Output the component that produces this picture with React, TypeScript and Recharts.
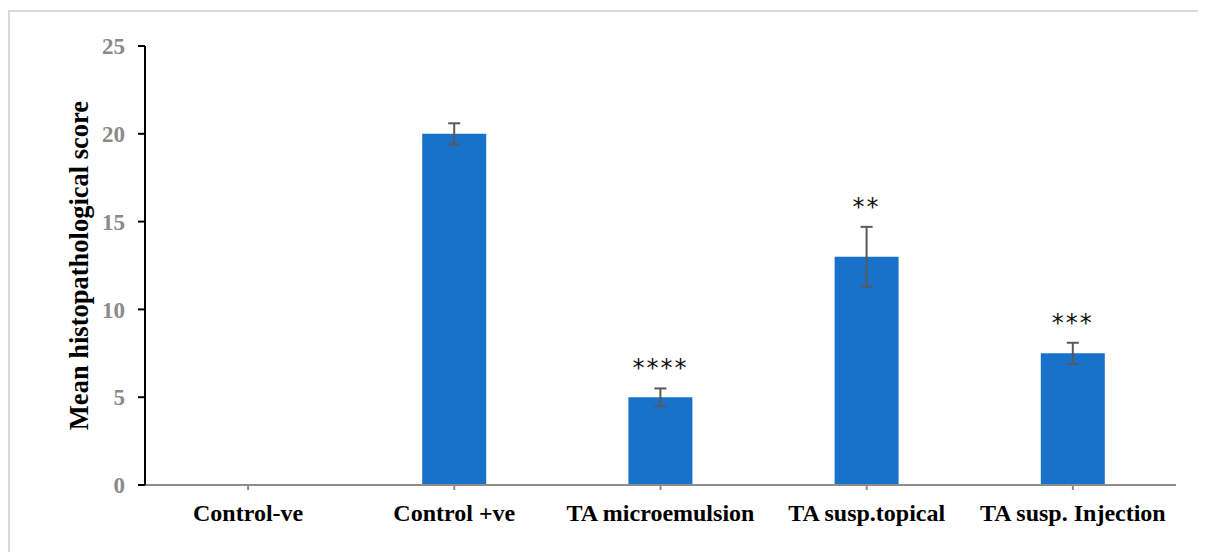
import React from 'react';
import { BarChart, Bar, XAxis, YAxis, ErrorBar, LabelList, Label } from 'recharts';

const categories = ['Control-ve', 'Control +ve', 'TA microemulsion', 'TA susp.topical', 'TA susp. Injection'];
const means = [0, 20, 5, 13, 7.5];
const errors = [0, 0.6, 0.5, 1.7, 0.6];
const significance = ['', '', '****', '**', '***'];
const yTicks = [0, 5, 10, 15, 20, 25];

const data = categories.map((name, i) => ({ name, mean: means[i], err: errors[i] }));

const serif = '"Liberation Serif", "Times New Roman", serif';

const StarLabel = (props: any) => {
  const { x, y, width, height, value } = props;
  const i = categories.indexOf(value);
  if (i < 0) return null;
  const v = means[i];
  const s = significance[i];
  if (!s || !v) return null;
  const ppu = height / v;
  const errTop = y - errors[i] * ppu;
  return (
    <text
      x={x + width / 2}
      y={errTop - 12}
      textAnchor="middle"
      fontFamily='"DejaVu Sans", sans-serif'
      fontSize={24}
      letterSpacing={2}
      fill="#111"
    >
      {s}
    </text>
  );
};

export default function App() {
  return (
    <div style={{ position: 'relative', width: 1198, height: 544 }}>
      <div
        style={{
          position: 'absolute',
          left: 0,
          top: 2,
          width: 1210,
          height: 560,
          border: '2px solid #d9d9d9',
          boxSizing: 'border-box',
        }}
      />
      <div style={{ position: 'absolute', left: 0, top: 0 }}>
        <BarChart
          width={1190}
          height={540}
          data={data}
          margin={{ top: 38, right: 22, bottom: 13, left: 0 }}
          barSize={64}
        >
          <XAxis
            dataKey="name"
            height={50}
            axisLine={{ stroke: '#8c8c8c', strokeWidth: 2 }}
            tickLine={{ stroke: '#8c8c8c', strokeWidth: 2 }}
            tickSize={5}
            tickMargin={14}
            interval={0}
            tick={{ fontFamily: serif, fontWeight: 'bold', fontSize: 24, fill: '#000' }}
          />
          <YAxis
            width={137}
            domain={[0, 25]}
            ticks={yTicks}
            axisLine={{ stroke: '#000', strokeWidth: 2 }}
            tickLine={{ stroke: '#000', strokeWidth: 2 }}
            tickSize={7}
            tickMargin={13}
            tick={{ fontFamily: serif, fontWeight: 'bold', fontSize: 23, fill: '#8a8a8a' }}
          >
            <Label
              value="Mean histopathological score"
              angle={-90}
              position="center"
              dx={2}
              style={{ fontFamily: serif, fontWeight: 'bold', fontSize: 26.5, fill: '#000' }}
            />
          </YAxis>
          <Bar dataKey="mean" fill="#1872C9" isAnimationActive={false}>
            <ErrorBar dataKey="err" width={6} stroke="#595959" strokeWidth={2} direction="y" />
            <LabelList dataKey="name" content={StarLabel} />
          </Bar>
        </BarChart>
      </div>
    </div>
  );
}
